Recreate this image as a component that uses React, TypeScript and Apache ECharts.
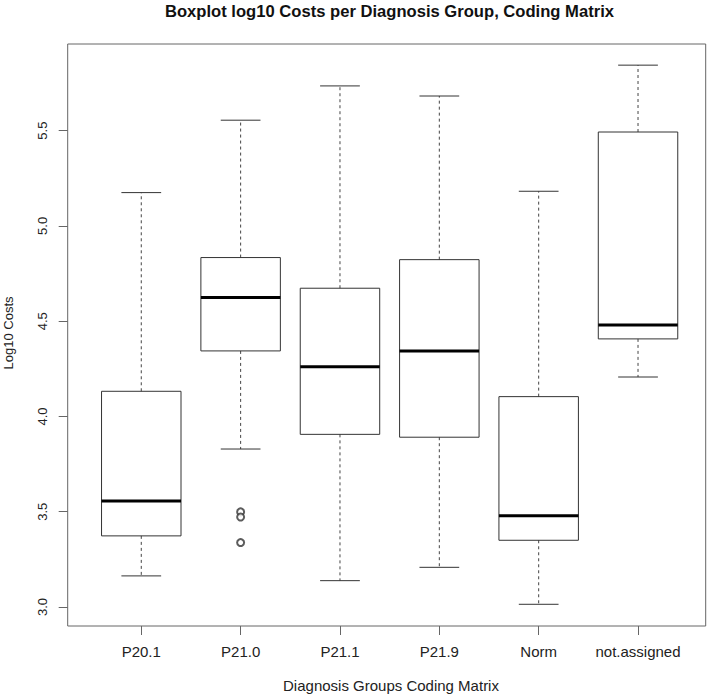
import React, { useEffect, useRef } from "react";
import * as echarts from "echarts";

const categories = ["P20.1", "P21.0", "P21.1", "P21.9", "Norm", "not.assigned"];
const lowerWhisker = [3.163, 3.829, 3.138, 3.208, 3.014, 4.207];
const q1 = [3.373, 4.344, 3.906, 3.891, 3.35, 4.407];
const median = [3.556, 4.624, 4.261, 4.344, 3.479, 4.48];
const q3 = [4.132, 4.834, 4.673, 4.823, 4.104, 5.493];
const upperWhisker = [5.175, 5.555, 5.735, 5.682, 5.182, 5.844];
const outlierGroup = ["P21.0", "P21.0", "P21.0"];
const outlierValues = [3.499, 3.472, 3.338];
const yTicks = [3.0, 3.5, 4.0, 4.5, 5.0, 5.5];

const FONT = "'Liberation Sans', Arial, Helvetica, sans-serif";

export default function App() {
  const ref = useRef<HTMLDivElement>(null);
  useEffect(() => {
    if (!ref.current) return;
    const chart = echarts.init(ref.current, null, { renderer: "svg" });
    const boxData = categories.map((_, i) => [
      i,
      lowerWhisker[i],
      q1[i],
      median[i],
      q3[i],
      upperWhisker[i],
    ]);
    const line = "#333";
    chart.setOption({
      animation: false,
      backgroundColor: "#fff",
      grid: { left: 91.6, right: 26.3, top: 44, bottom: 71, containLabel: false },
      xAxis: {
        type: "category",
        data: categories,
        axisLine: { show: false },
        axisTick: { show: true, alignWithLabel: true, interval: 0, length: 9, lineStyle: { color: "#666" } },
        axisLabel: { interval: 0, fontSize: 15, color: "#222", margin: 18, fontFamily: FONT },
        splitLine: { show: false },
      },
      yAxis: {
        type: "value",
        min: 2.9,
        max: 5.955,
        offset: 23.9,
        axisLine: { show: false },
        splitLine: { show: false },
        axisTick: {
          show: true,
          length: 9,
          customValues: yTicks,
          lineStyle: { color: "#666" },
        },
        axisLabel: {
          customValues: yTicks,
          rotate: 90,
          fontSize: 13,
          color: "#222",
          margin: 19,
          fontFamily: FONT,
          formatter: (v: number) => v.toFixed(1),
        },
      },
      graphic: [
        {
          type: "rect",
          shape: { x: 67.7, y: 44, width: 638, height: 582 },
          style: { fill: "none", stroke: "#666", lineWidth: 1 },
          z: 10,
        },
        {
          type: "text",
          x: 389.5,
          y: 11,
          style: {
            text: "Boxplot log10 Costs per Diagnosis Group, Coding Matrix",
            font: `bold 16.6px ${FONT}`,
            fill: "#111",
            textAlign: "center",
            textVerticalAlign: "middle",
          },
        },
        {
          type: "text",
          x: 391,
          y: 685.5,
          style: {
            text: "Diagnosis Groups Coding Matrix",
            font: `15px ${FONT}`,
            fill: "#222",
            textAlign: "center",
            textVerticalAlign: "middle",
          },
        },
        {
          type: "text",
          x: 8.5,
          y: 333,
          rotation: Math.PI / 2,
          style: {
            text: "Log10 Costs",
            font: `13px ${FONT}`,
            fill: "#222",
            textAlign: "center",
            textVerticalAlign: "middle",
          },
        },
      ],
      series: [
        {
          type: "custom",
          data: boxData,
          encode: { x: 0, y: [1, 2, 3, 4, 5] },
          renderItem: (params: any, api: any) => {
            const i = api.value(0);
            const x = api.coord([i, api.value(3)])[0];
            const yLow = api.coord([i, api.value(1)])[1];
            const yQ1 = api.coord([i, api.value(2)])[1];
            const yMed = api.coord([i, api.value(3)])[1];
            const yQ3 = api.coord([i, api.value(4)])[1];
            const yHigh = api.coord([i, api.value(5)])[1];
            const band = api.size([1, 0])[0];
            const hw = band * 0.4;
            const cw = band * 0.2;
            const dashed = { stroke: "#444", lineWidth: 1, lineDash: [3, 3] };
            const solid = { stroke: line, lineWidth: 1 };
            return {
              type: "group",
              children: [
                { type: "line", shape: { x1: x, y1: yQ3, x2: x, y2: yHigh }, style: dashed },
                { type: "line", shape: { x1: x, y1: yQ1, x2: x, y2: yLow }, style: dashed },
                { type: "line", shape: { x1: x - cw, y1: yHigh, x2: x + cw, y2: yHigh }, style: solid },
                { type: "line", shape: { x1: x - cw, y1: yLow, x2: x + cw, y2: yLow }, style: solid },
                {
                  type: "rect",
                  shape: { x: x - hw, y: yQ3, width: 2 * hw, height: yQ1 - yQ3 },
                  style: { fill: "none", stroke: line, lineWidth: 1 },
                },
                {
                  type: "line",
                  shape: { x1: x - hw, y1: yMed, x2: x + hw, y2: yMed },
                  style: { stroke: "#000", lineWidth: 3 },
                },
              ],
            };
          },
        },
        {
          type: "scatter",
          data: outlierGroup.map((g, k) => [g, outlierValues[k]]),
          symbol: "emptyCircle",
          symbolSize: 7,
          itemStyle: { color: "#333", borderWidth: 1 },
        },
      ],
    });
    return () => chart.dispose();
  }, []);
  return (
    <div
      ref={ref}
      style={{ position: "fixed", left: 0, top: 0, width: 714, height: 697 }}
    />
  );
}
